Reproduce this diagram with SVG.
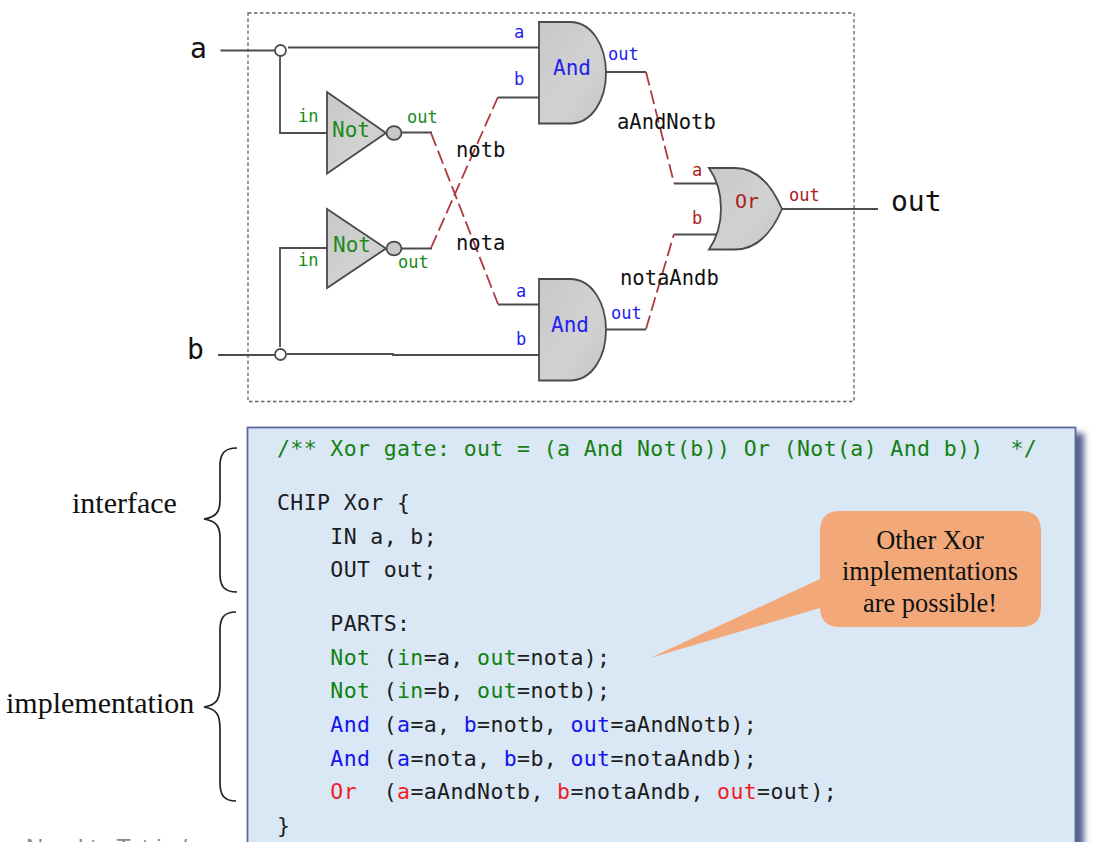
<svg xmlns="http://www.w3.org/2000/svg" width="1093" height="842" viewBox="0 0 1093 842">
<defs>
<filter id="sh" x="-5%" y="-5%" width="112%" height="112%"><feGaussianBlur stdDeviation="3"/></filter>
<linearGradient id="gate" x1="0" y1="0" x2="1" y2="1"><stop offset="0" stop-color="#c8c8c8"/><stop offset="0.6" stop-color="#d2d2d2"/><stop offset="1" stop-color="#c4c4c4"/></linearGradient>
</defs>
<style>
text{font-family:"DejaVu Sans Mono","Liberation Mono",monospace;white-space:pre}
.gate{fill:url(#gate);stroke:#4a4a4a;stroke-width:1.8}
.wire{fill:none;stroke:#4d4d4d;stroke-width:1.8}
.dash{fill:none;stroke:#ad3a3f;stroke-width:1.8;stroke-dasharray:14 5}
.joint{fill:#fff;stroke:#4d4d4d;stroke-width:1.8}
.bub{fill:#c8c8c8;stroke:#4a4a4a;stroke-width:1.8}
.pin{font-size:17px}
.gn{fill:#1a8a1a}.bl{fill:#2222ee}.rd{fill:#ad2020}
.wl{font-size:20.500px;fill:#111}
.title{font-size:21px}
.big{font-size:28px;fill:#111}
.code{font-size:21.500px;letter-spacing:.39px;fill:#1c1c1c}
.cg{fill:#128012}.cb{fill:#1414f0}.cr{fill:#f01c28}
text.serif{font-family:"Liberation Serif",serif;fill:#111}
.brace{fill:none;stroke:#222;stroke-width:1.7}
</style>
<g id="boundary"><rect x="248" y="13" width="606" height="388.500" fill="none" stroke="#666" stroke-width="1.300" stroke-dasharray="3.500 2.500"/></g>
<g id="connectors">
<path class="wire" d="M220.500 50.500H275M288 47.500H539M280 57V133H327M280 347V248H327M218 355H275M287 354H393V355H539M402 132.500H432M402 248.500H432M498 97.500H539M498 304.500H539M606 72H646M606 329.500H646M674 183.500H717M674 234.500H717M782 209H878"/>
<path class="dash" d="M431 133L498 304M431 248L498 97M646 72L674 183M646 329L674 234"/>
</g>
<g id="joint-a"><circle class="joint" cx="280.500" cy="50.500" r="5.500"/></g>
<g id="joint-b"><circle class="joint" cx="280.500" cy="354.500" r="5.500"/></g>
<g id="input-a"><text class="big" x="190" y="58">a</text></g>
<g id="input-b"><text class="big" x="187" y="359">b</text></g>
<g id="output-out"><text class="big" x="891" y="211">out</text></g>
<g id="not1">
<path class="gate" d="M327 92L386 133L327 173.500Z"/><ellipse class="bub" cx="394" cy="133" rx="7.500" ry="6.800"/>
<text class="title gn" x="332" y="137">Not</text><text class="pin gn" x="298" y="122">in</text><text class="pin gn" x="407" y="123">out</text>
</g>
<g id="not2">
<path class="gate" d="M327 209L386 248.500L327 288Z"/><ellipse class="bub" cx="394" cy="248.500" rx="7.500" ry="6.800"/>
<text class="title gn" x="333" y="252">Not</text><text class="pin gn" x="298" y="266">in</text><text class="pin gn" x="398" y="268">out</text>
</g>
<g id="and1">
<path class="gate" d="M539 22H570C592 22 606 46 606 73C606 100 592 123.500 570 123.500H539Z"/>
<text class="title bl" x="553" y="75">And</text><text class="pin bl" x="514" y="38">a</text><text class="pin bl" x="514" y="85">b</text><text class="pin bl" x="608" y="60">out</text>
</g>
<g id="and2">
<path class="gate" d="M539 279H570C592 279 606 303 606 330C606 357 592 380.500 570 380.500H539Z"/>
<text class="title bl" x="551" y="332">And</text><text class="pin bl" x="516" y="297">a</text><text class="pin bl" x="516" y="345">b</text><text class="pin bl" x="611" y="319">out</text>
</g>
<g id="or">
<path class="gate" d="M709 168H735C758 168 773 188 782 209C773 230 758 249.500 735 249.500H709C725 226 725 191 709 168Z"/>
<text class="title rd" x="735" y="208" style="font-size:20px">Or</text><text class="pin rd" x="692" y="176">a</text><text class="pin rd" x="692" y="224">b</text><text class="pin rd" x="789" y="201">out</text>
</g>
<g id="wire-labels">
<text class="wl" x="456" y="157">notb</text><text class="wl" x="456" y="250">nota</text><text class="wl" x="617" y="129">aAndNotb</text><text class="wl" x="620" y="285">notaAndb</text>
</g>
<g id="code-panel">
<rect x="253" y="433" width="831" height="420" fill="#555f8e" filter="url(#sh)"/>
<rect x="247.500" y="427.500" width="828" height="420" fill="#dae7f5" stroke="#5b6a9a" stroke-width="1.800"/>
<text class="code" x="277" y="456"><tspan class="cg">/** Xor gate: out = (a And Not(b)) Or (Not(a) And b))  */</tspan></text>
<text class="code" x="277" y="510">CHIP Xor {</text>
<text class="code" x="277" y="544">    IN a, b;</text>
<text class="code" x="277" y="577">    OUT out;</text>
<text class="code" x="277" y="631">    PARTS:</text>
<text class="code" x="277" y="665">    <tspan class="cg">Not</tspan> (<tspan class="cg">in</tspan>=a, <tspan class="cg">out</tspan>=nota);</text>
<text class="code" x="277" y="698">    <tspan class="cg">Not</tspan> (<tspan class="cg">in</tspan>=b, <tspan class="cg">out</tspan>=notb);</text>
<text class="code" x="277" y="732">    <tspan class="cb">And</tspan> (<tspan class="cb">a</tspan>=a, <tspan class="cb">b</tspan>=notb, <tspan class="cb">out</tspan>=aAndNotb);</text>
<text class="code" x="277" y="766">    <tspan class="cb">And</tspan> (<tspan class="cb">a</tspan>=nota, <tspan class="cb">b</tspan>=b, <tspan class="cb">out</tspan>=notaAndb);</text>
<text class="code" x="277" y="799">    <tspan class="cr">Or</tspan>  (<tspan class="cr">a</tspan>=aAndNotb, <tspan class="cr">b</tspan>=notaAndb, <tspan class="cr">out</tspan>=out);</text>
<text class="code" x="277" y="833">}</text>
</g>
<g id="callout">
<path d="M840 511H1021Q1041 511 1041 531V607Q1041 627 1021 627H840Q820 627 820 607V608L650 658L820 579V531Q820 511 840 511Z" fill="#f2a878"/>
<text class="serif" x="930" y="549" font-size="26.400" text-anchor="middle">Other Xor</text><text class="serif" x="930" y="580" font-size="26.400" text-anchor="middle">implementations</text><text class="serif" x="930" y="612" font-size="26.400" text-anchor="middle">are possible!</text>
</g>
<g id="interface-label">
<path class="brace" d="M237 448C224 448 220 454 220 466V500C220 511 217 517 204 519C217 521 220 527 220 538V574C220 586 224 592 237 592"/>
<text class="serif" x="72" y="513" font-size="30">interface</text>
</g>
<g id="implementation-label">
<path class="brace" d="M236 612C224 612 220 618 220 630V685C220 699 217 705 204 707C217 709 220 715 220 729V783C220 795 224 801 236 801"/>
<text class="serif" x="6" y="713" font-size="30">implementation</text>
</g>
<g id="cut-off-text"><text x="26" y="856" font-size="24" fill="#888" style="font-family:'Liberation Sans',sans-serif">Nand to Tetris /</text></g>
</svg>
